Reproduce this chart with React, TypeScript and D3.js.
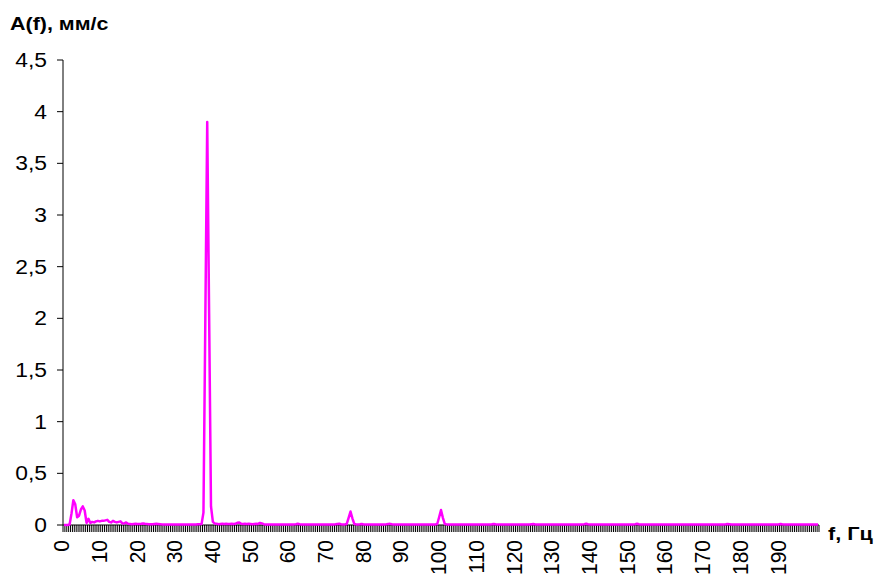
import * as d3 from 'd3';

// amplitude spectrum, step 0.5 Hz, one row = 10 Hz (20 samples)
const amplitudeRows: number[][] = [
  [0, 0, 0, 0.005, 0.11, 0.24, 0.2, 0.075, 0.09, 0.15, 0.18, 0.14, 0.02, 0.06, 0.02, 0.03, 0.025, 0.035, 0.04, 0.035],
  [0.04, 0.04, 0.045, 0.05, 0.03, 0.025, 0.04, 0.03, 0.025, 0.03, 0.035, 0.015, 0.015, 0.025, 0.012, 0.01, 0.008, 0.01, 0.012, 0.01],
  [0.01, 0.012, 0.015, 0.012, 0.01, 0.008, 0.007, 0.008, 0.01, 0.012, 0.01, 0.008, 0.006, 0.005, 0.006, 0.005, 0.005, 0.006, 0.005, 0.005],
  [0.005, 0.005, 0.006, 0.005, 0.005, 0.005, 0.006, 0.005, 0.005, 0.006, 0.005, 0.007, 0.008, 0.01, 0.12, 2.0, 3.9, 2.05, 0.18, 0.03],
  [0.015, 0.012, 0.008, 0.01, 0.012, 0.01, 0.012, 0.01, 0.01, 0.012, 0.01, 0.012, 0.022, 0.025, 0.012, 0.01, 0.012, 0.01, 0.012, 0.01],
  [0.008, 0.01, 0.012, 0.01, 0.02, 0.015, 0.008, 0.005, 0.006, 0.005, 0.005, 0.006, 0.005, 0.005, 0.005, 0.006, 0.005, 0.005, 0.006, 0.005],
  [0.005, 0.005, 0.006, 0.008, 0.012, 0.007, 0.005, 0.005, 0.006, 0.005, 0.005, 0.005, 0.006, 0.005, 0.005, 0.005, 0.006, 0.005, 0.005, 0.005],
  [0.005, 0.006, 0.005, 0.005, 0.007, 0.01, 0.012, 0.007, 0.005, 0.006, 0.01, 0.07, 0.13, 0.065, 0.01, 0.006, 0.005, 0.007, 0.01, 0.006],
  [0.005, 0.005, 0.006, 0.005, 0.005, 0.005, 0.006, 0.005, 0.005, 0.005, 0.006, 0.007, 0.009, 0.011, 0.007, 0.005, 0.005, 0.006, 0.005, 0.005],
  [0.005, 0.006, 0.005, 0.005, 0.005, 0.006, 0.005, 0.005, 0.005, 0.006, 0.005, 0.005, 0.006, 0.005, 0.005, 0.006, 0.005, 0.006, 0.01, 0.075],
  [0.145, 0.07, 0.01, 0.006, 0.005, 0.005, 0.006, 0.005, 0.005, 0.005, 0.006, 0.005, 0.005, 0.005, 0.006, 0.005, 0.005, 0.005, 0.006, 0.005],
  [0.005, 0.005, 0.006, 0.005, 0.005, 0.005, 0.006, 0.007, 0.01, 0.007, 0.005, 0.005, 0.006, 0.005, 0.005, 0.005, 0.006, 0.005, 0.005, 0.005],
  [0.005, 0.006, 0.005, 0.005, 0.005, 0.006, 0.005, 0.005, 0.007, 0.009, 0.006, 0.005, 0.005, 0.006, 0.005, 0.005, 0.005, 0.006, 0.005, 0.005],
  [0.005, 0.005, 0.006, 0.005, 0.005, 0.005, 0.006, 0.005, 0.005, 0.005, 0.006, 0.005, 0.005, 0.005, 0.006, 0.006, 0.008, 0.012, 0.007, 0.005],
  [0.005, 0.006, 0.005, 0.005, 0.005, 0.006, 0.005, 0.005, 0.005, 0.006, 0.005, 0.005, 0.005, 0.006, 0.005, 0.005, 0.005, 0.006, 0.005, 0.005],
  [0.005, 0.005, 0.006, 0.008, 0.012, 0.008, 0.005, 0.005, 0.006, 0.005, 0.005, 0.005, 0.006, 0.005, 0.005, 0.005, 0.006, 0.005, 0.005, 0.005],
  [0.005, 0.006, 0.005, 0.005, 0.005, 0.006, 0.005, 0.005, 0.005, 0.006, 0.005, 0.005, 0.005, 0.006, 0.005, 0.005, 0.005, 0.006, 0.005, 0.005],
  [0.005, 0.005, 0.006, 0.005, 0.005, 0.005, 0.006, 0.005, 0.005, 0.005, 0.006, 0.007, 0.009, 0.007, 0.005, 0.005, 0.006, 0.005, 0.005, 0.005],
  [0.005, 0.006, 0.005, 0.005, 0.005, 0.006, 0.005, 0.005, 0.005, 0.006, 0.005, 0.005, 0.005, 0.006, 0.005, 0.005, 0.005, 0.006, 0.005, 0.006],
  [0.01, 0.007, 0.005, 0.005, 0.006, 0.005, 0.005, 0.005, 0.006, 0.005, 0.005, 0.005, 0.006, 0.005, 0.005, 0.005, 0.006, 0.005, 0.005, 0.005],
  [0.005],
];
const amplitude = amplitudeRows.flat();
const frequencies = d3.range(amplitude.length).map((i) => i * 0.5);

const xTickLabels = [0, 10, 20, 30, 40, 50, 60, 70, 80, 90, 100, 110, 120, 130, 140, 150, 160, 170, 180, 190];
const yTicks = [0, 0.5, 1, 1.5, 2, 2.5, 3, 3.5, 4, 4.5];

const width = 875;
const height = 579;
const margin = { top: 60, right: 56, bottom: 54, left: 63 };
const font = '"Liberation Sans", Arial, sans-serif';
const fs = 19.5;
// the original picture is a bit stretched sideways
const sx = 1.17;

export default function App() {
  const x = d3
    .scaleBand<number>()
    .domain(frequencies)
    .range([margin.left, width - margin.right])
    .padding(0);
  const y = d3
    .scaleLinear()
    .domain([0, 4.5])
    .range([height - margin.bottom, margin.top]);
  const cx = (f: number) => (x(f) ?? 0) + x.bandwidth() / 2;

  const line = d3
    .line<number>()
    .x((_, i) => cx(frequencies[i]))
    .y((v) => y(v));

  const y0 = y(0);
  const boundaries = frequencies.map((f) => x(f) ?? 0).concat(width - margin.right);

  return (
    <svg width={width} height={height} style={{ position: 'absolute', left: 0, top: 0, background: '#fff' }}>
      <text transform={`translate(10,30) scale(${sx - 0.04},1)`} fontFamily={font} fontSize={fs - 0.5} fontWeight="bold">
        A(f), мм/с
      </text>

      {/* y axis */}
      <line x1={margin.left} x2={margin.left} y1={y(4.5)} y2={y0} stroke="#000" />
      {yTicks.map((t) => (
        <g key={t}>
          <line x1={margin.left - 6} x2={margin.left} y1={y(t)} y2={y(t)} stroke="#000" />
          <text
            transform={`translate(47,${y(t)}) scale(${sx},1)`}
            textAnchor="end"
            dominantBaseline="central"
            fontFamily={font}
            fontSize={fs}
          >
            {String(t).replace('.', ',')}
          </text>
        </g>
      ))}

      {/* x axis */}
      {boundaries.map((bx, i) => (
        <line key={i} x1={bx} x2={bx} y1={y0} y2={y0 + 7} stroke="#000" strokeWidth={1} />
      ))}
      <line x1={margin.left} x2={width - margin.right} y1={y0} y2={y0} stroke="#000" />
      {xTickLabels.map((f) => (
        <text
          key={f}
          transform={`translate(${cx(f) - 2},${y0 + 15}) scale(1.05,1) rotate(-90)`}
          textAnchor="end"
          dominantBaseline="central"
          fontFamily={font}
          fontSize={21}
        >
          {f}
        </text>
      ))}
      <text transform={`translate(828,540) scale(${sx},1)`} fontFamily={font} fontSize={fs - 1} fontWeight="bold">
        f, Гц
      </text>

      <path d={line(amplitude) ?? ''} fill="none" stroke="#FF00FF" strokeWidth={2.5} strokeLinejoin="round" />
    </svg>
  );
}
